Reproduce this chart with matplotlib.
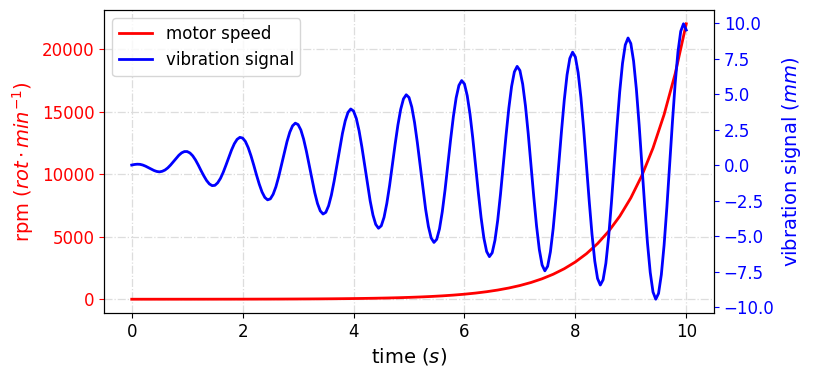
import matplotlib
matplotlib.use("Agg")
import matplotlib.pyplot as plt
import numpy as np

# motor speed (rpm) sampled every 0.2 s
speed_time = [round(0.2 * i, 1) for i in range(51)]
motor_speed = [1.0, 1.22, 1.49, 1.82, 2.23, 2.72, 3.32, 4.06, 4.95, 6.05,
               7.39, 9.03, 11.0, 13.5, 16.4, 20.1, 24.5, 30.0, 36.6, 44.7,
               54.6, 66.7, 81.5, 99.5, 121.5, 148.4, 181.3, 221.4, 270.4, 330.3,
               403.4, 492.7, 601.8, 735.1, 897.8, 1096.6, 1339.4, 1636.0, 1998.2, 2440.6,
               2981.0, 3641.0, 4447.1, 5431.7, 6634.2, 8103.1, 9897.1, 12088.4, 14764.8, 18033.7,
               22026.5]

# vibration signal (mm) sampled every 0.05 s
vib_time = [round(0.05 * i, 2) for i in range(201)]
vibration = [
    0.00, 0.04, 0.06, 0.05, 0.00, -0.08, -0.18, -0.28, -0.38, -0.45,
    -0.48, -0.44, -0.35, -0.20, 0.00, 0.23, 0.47, 0.69, 0.86, 0.95,
    0.95, 0.85, 0.65, 0.36, 0.00, -0.39, -0.76, -1.09, -1.33, -1.45,
    -1.43, -1.25, -0.94, -0.51, 0.00, 0.54, 1.06, 1.50, 1.81, 1.95,
    1.90, 1.66, 1.23, 0.66, 0.00, -0.70, -1.35, -1.90, -2.28, -2.45,
    -2.38, -2.06, -1.53, -0.82, 0.00, 0.85, 1.65, 2.31, 2.76, 2.95,
    2.85, 2.47, 1.82, 0.97, 0.00, -1.00, -1.94, -2.71, -3.23, -3.45,
    -3.33, -2.87, -2.12, -1.13, 0.00, 1.16, 2.23, 3.11, 3.71, 3.95,
    3.80, 3.28, 2.41, 1.28, 0.00, -1.31, -2.53, -3.52, -4.18, -4.45,
    -4.28, -3.68, -2.70, -1.44, 0.00, 1.47, 2.82, 3.92, 4.66, 4.95,
    4.76, 4.09, 3.00, 1.59, 0.00, -1.62, -3.12, -4.33, -5.14, -5.45,
    -5.23, -4.49, -3.29, -1.75, 0.00, 1.78, 3.41, 4.73, 5.61, 5.95,
    5.71, 4.89, 3.59, 1.90, 0.00, -1.93, -3.70, -5.14, -6.09, -6.45,
    -6.18, -5.30, -3.88, -2.05, 0.00, 2.09, 4.00, 5.54, 6.56, 6.95,
    6.66, 5.70, 4.17, 2.21, 0.00, -2.24, -4.29, -5.95, -7.04, -7.45,
    -7.13, -6.11, -4.47, -2.36, 0.00, 2.39, 4.58, 6.35, 7.51, 7.95,
    7.61, 6.51, 4.76, 2.52, 0.00, -2.55, -4.88, -6.76, -7.99, -8.45,
    -8.08, -6.92, -5.06, -2.67, 0.00, 2.70, 5.17, 7.16, 8.46, 8.95,
    8.56, 7.32, 5.35, 2.83, 0.00, -2.86, -5.47, -7.56, -8.94, -9.45,
    -9.04, -7.73, -5.64, -2.98, 0.00, 3.01, 5.76, 7.97, 9.42, 9.95,
    9.51,
]

fig = plt.figure(figsize=(8.13, 3.77), dpi=100)
ax = fig.add_subplot(111)
fig.subplots_adjust(left=104/813, right=714/813, top=1-10/377, bottom=1-313/377)

l1, = ax.plot(speed_time, motor_speed, color='red', lw=2, label='motor speed')
ax.set_xlabel('time ($s$)', fontsize=14)
ax.set_ylabel(r'rpm ($rot \cdot min^{-1}$)', fontsize=14, color='red')
ax.tick_params(axis='y', colors='red', labelsize=12)
ax.tick_params(axis='x', labelsize=12)
ax.grid(True, linestyle='-.', color='#dddddd', lw=0.9)

ax2 = ax.twinx()
l2, = ax2.plot(vib_time, vibration, color='blue', lw=2, label='vibration signal')
ax2.set_ylabel('vibration signal ($mm$)', fontsize=14, color='blue')
ax2.tick_params(axis='y', colors='blue', labelsize=12)

ax2.legend(handles=[l1, l2], loc='upper left', fontsize=12)

fig.savefig('out.png', dpi=100)
